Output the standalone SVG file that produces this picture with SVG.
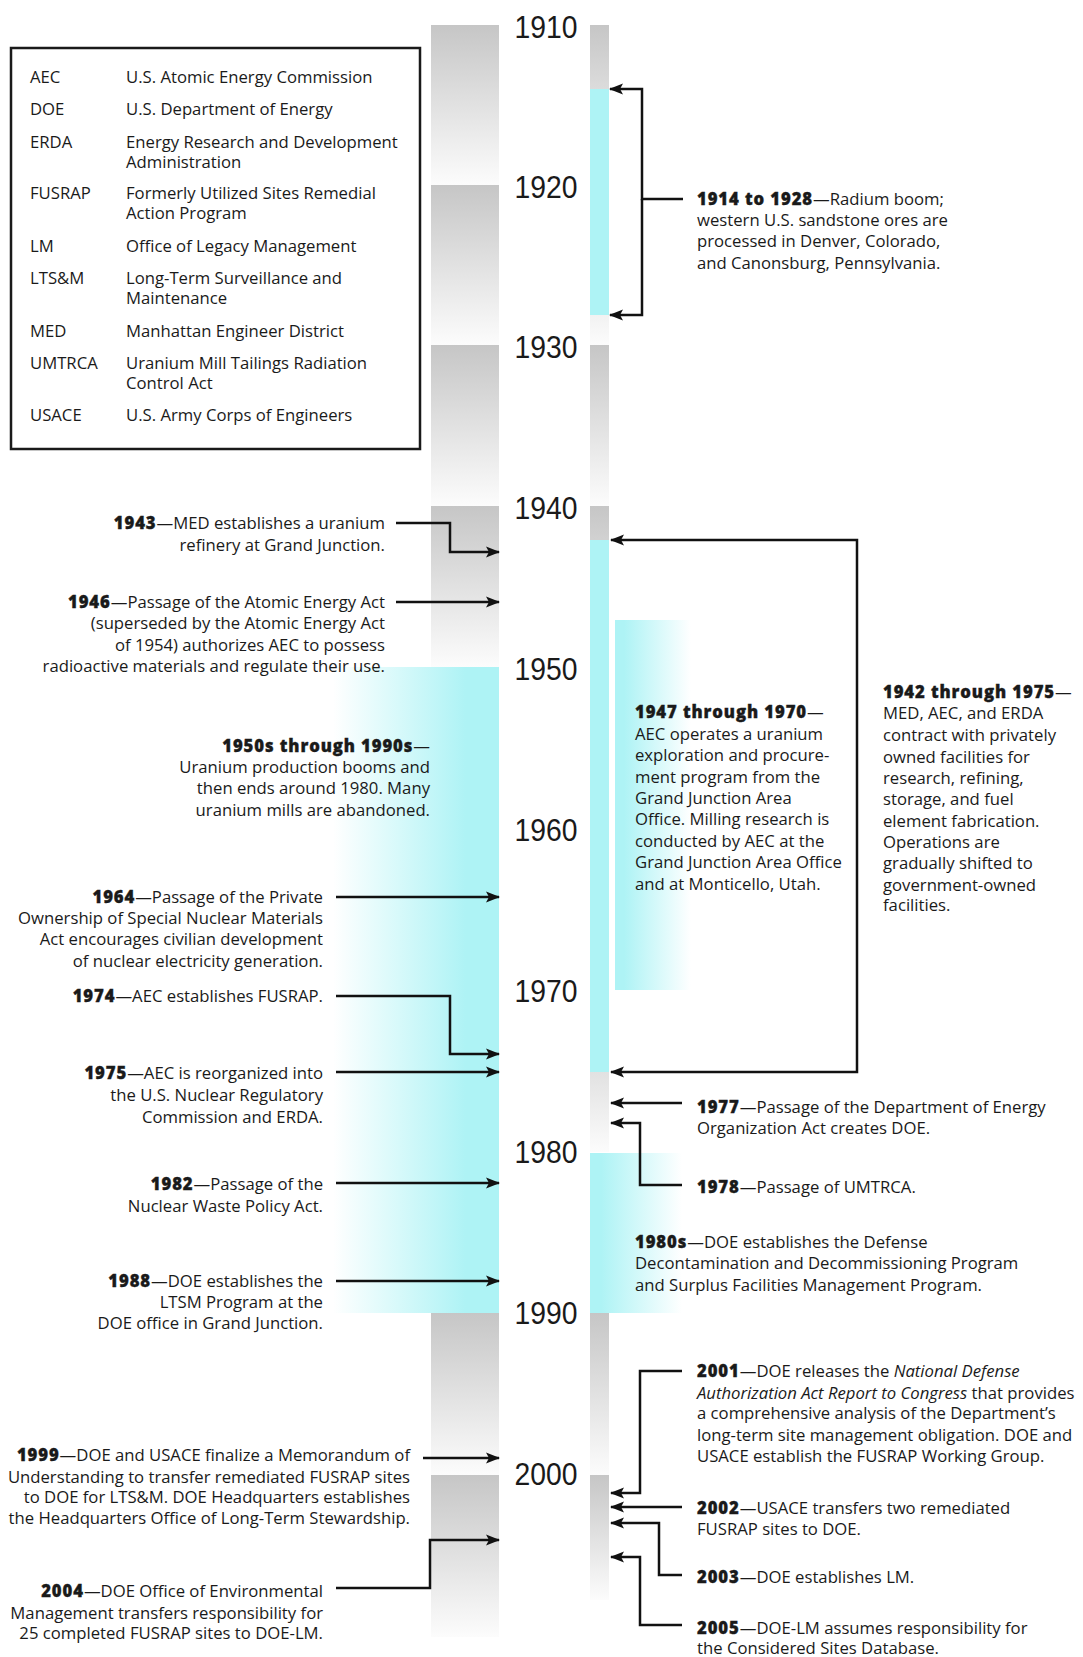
<svg xmlns="http://www.w3.org/2000/svg" width="1083" height="1657" viewBox="0 0 1083 1657">
<defs>
<linearGradient id="gray" x1="0" y1="0" x2="0" y2="1"><stop offset="0" stop-color="#c6c6c6"/><stop offset="1" stop-color="#fcfcfc"/></linearGradient>
<linearGradient id="cyanL" x1="0" y1="0" x2="1" y2="0"><stop offset="0" stop-color="#aef3f5" stop-opacity="0"/><stop offset="0.8" stop-color="#aef3f5"/></linearGradient>
<linearGradient id="cyanR" x1="0" y1="0" x2="1" y2="0"><stop offset="0.12" stop-color="#aef3f5"/><stop offset="1" stop-color="#aef3f5" stop-opacity="0"/></linearGradient>
<marker id="ah" viewBox="0 0 14 12" refX="13" refY="6" markerWidth="14" markerHeight="12" orient="auto" markerUnits="userSpaceOnUse"><path d="M0,0.5 L14,6 L0,11.5 L3,6 Z" fill="#111"/></marker>
</defs>
<style>
.t{font-family:"Open Sans","Noto Sans","Liberation Sans",sans-serif;font-size:16.7px;fill:#1a1a1a}
.e{text-anchor:end}
.b{font-weight:800;letter-spacing:0.9px;stroke:#1a1a1a;stroke-width:0.35px}
.i{font-style:italic}
.yr{font-family:"Liberation Sans",Arial,sans-serif;font-size:32px;fill:#1a1a1a;text-anchor:middle}
.g{fill:url(#gray)}
.cy{fill:#aef3f5}
.ca{fill:none;stroke:#111;stroke-width:2.5;marker-end:url(#ah)}
</style>
<rect width="1083" height="1657" fill="#fff"/>

<g id="bars">
<rect class="g" x="431" y="25" width="68" height="160"/>
<rect class="g" x="431" y="185" width="68" height="160"/>
<rect class="g" x="431" y="345" width="68" height="161"/>
<rect class="g" x="431" y="506" width="68" height="161"/>
<rect class="g" x="431" y="1313" width="68" height="162"/>
<rect class="g" x="431" y="1475" width="68" height="162"/>
<rect x="333" y="667" width="166" height="646" fill="url(#cyanL)"/>
<rect class="g" x="590" y="25" width="19" height="160"/>
<rect class="g" x="590" y="185" width="19" height="160"/>
<rect class="g" x="590" y="345" width="19" height="161"/>
<rect class="g" x="590" y="506" width="19" height="161"/>
<rect class="g" x="590" y="667" width="19" height="161"/>
<rect class="g" x="590" y="828" width="19" height="162"/>
<rect class="g" x="590" y="990" width="19" height="162"/>
<rect class="g" x="590" y="1313" width="19" height="162"/>
<rect class="g" x="590" y="1475" width="19" height="125"/>
<rect class="cy" x="590" y="89" width="19" height="226"/>
<rect class="cy" x="590" y="540" width="19" height="532"/>
<rect x="615" y="620" width="76" height="370" fill="url(#cyanR)"/>
<rect x="590" y="1153" width="92" height="160" fill="url(#cyanR)"/>
</g>

<g id="years">
<text class="yr" x="546" y="38" textLength="63" lengthAdjust="spacingAndGlyphs">1910</text>
<text class="yr" x="546" y="198" textLength="63" lengthAdjust="spacingAndGlyphs">1920</text>
<text class="yr" x="546" y="358" textLength="63" lengthAdjust="spacingAndGlyphs">1930</text>
<text class="yr" x="546" y="519" textLength="63" lengthAdjust="spacingAndGlyphs">1940</text>
<text class="yr" x="546" y="680" textLength="63" lengthAdjust="spacingAndGlyphs">1950</text>
<text class="yr" x="546" y="841" textLength="63" lengthAdjust="spacingAndGlyphs">1960</text>
<text class="yr" x="546" y="1002" textLength="63" lengthAdjust="spacingAndGlyphs">1970</text>
<text class="yr" x="546" y="1163" textLength="63" lengthAdjust="spacingAndGlyphs">1980</text>
<text class="yr" x="546" y="1324" textLength="63" lengthAdjust="spacingAndGlyphs">1990</text>
<text class="yr" x="546" y="1485" textLength="63" lengthAdjust="spacingAndGlyphs">2000</text>
</g>

<g id="legend">
<rect x="11" y="48" width="409" height="401" fill="none" stroke="#1a1a1a" stroke-width="2.5"/>
<text class="t">
<tspan x="30" y="83">AEC</tspan><tspan x="126" y="83">U.S. Atomic Energy Commission</tspan>
<tspan x="30" y="115">DOE</tspan><tspan x="126" y="115">U.S. Department of Energy</tspan>
<tspan x="30" y="148">ERDA</tspan><tspan x="126" y="148">Energy Research and Development</tspan>
<tspan x="126" y="168">Administration</tspan>
<tspan x="30" y="199">FUSRAP</tspan><tspan x="126" y="199">Formerly Utilized Sites Remedial</tspan>
<tspan x="126" y="219">Action Program</tspan>
<tspan x="30" y="252">LM</tspan><tspan x="126" y="252">Office of Legacy Management</tspan>
<tspan x="30" y="284">LTS&amp;M</tspan><tspan x="126" y="284">Long-Term Surveillance and</tspan>
<tspan x="126" y="304">Maintenance</tspan>
<tspan x="30" y="337">MED</tspan><tspan x="126" y="337">Manhattan Engineer District</tspan>
<tspan x="30" y="369">UMTRCA</tspan><tspan x="126" y="369">Uranium Mill Tailings Radiation</tspan>
<tspan x="126" y="389">Control Act</tspan>
<tspan x="30" y="421">USACE</tspan><tspan x="126" y="421">U.S. Army Corps of Engineers</tspan>
</text>
</g>

<g id="e1914">
<text class="t"><tspan x="697" y="204.5"><tspan class="b">1914 to 1928</tspan>—Radium boom;</tspan><tspan x="697" y="226">western U.S. sandstone ores are</tspan><tspan x="697" y="247">processed in Denver, Colorado,</tspan><tspan x="697" y="268.5">and Canonsburg, Pennsylvania.</tspan></text>
</g>

<g id="e1943">
<text class="t e"><tspan x="385" y="529"><tspan class="b">1943</tspan>—MED establishes a uranium</tspan><tspan x="385" y="551">refinery at Grand Junction.</tspan></text>
</g>

<g id="e1946">
<text class="t e"><tspan x="385" y="607.5"><tspan class="b">1946</tspan>—Passage of the Atomic Energy Act</tspan><tspan x="385" y="629">(superseded by the Atomic Energy Act</tspan><tspan x="385" y="650.5">of 1954) authorizes AEC to possess</tspan><tspan x="385" y="671.5">radioactive materials and regulate their use.</tspan></text>
</g>

<g id="e1950s">
<text class="t e"><tspan x="430" y="751.5"><tspan class="b">1950s through 1990s</tspan>—</tspan><tspan x="430" y="772.5">Uranium production booms and</tspan><tspan x="430" y="794">then ends around 1980. Many</tspan><tspan x="430" y="816">uranium mills are abandoned.</tspan></text>
</g>

<g id="e1947">
<text class="t"><tspan x="635" y="718"><tspan class="b">1947 through 1970</tspan>—</tspan><tspan x="635" y="740">AEC operates a uranium</tspan><tspan x="635" y="761">exploration and procure-</tspan><tspan x="635" y="782.5">ment program from the</tspan><tspan x="635" y="803.5">Grand Junction Area</tspan><tspan x="635" y="825">Office. Milling research is</tspan><tspan x="635" y="847">conducted by AEC at the</tspan><tspan x="635" y="867.5">Grand Junction Area Office</tspan><tspan x="635" y="890">and at Monticello, Utah.</tspan></text>
</g>

<g id="e1942">
<text class="t"><tspan x="883" y="697.5"><tspan class="b">1942 through 1975</tspan>—</tspan><tspan x="883" y="719">MED, AEC, and ERDA</tspan><tspan x="883" y="741">contract with privately</tspan><tspan x="883" y="762.5">owned facilities for</tspan><tspan x="883" y="783.5">research, refining,</tspan><tspan x="883" y="805">storage, and fuel</tspan><tspan x="883" y="826.5">element fabrication.</tspan><tspan x="883" y="848">Operations are</tspan><tspan x="883" y="869">gradually shifted to</tspan><tspan x="883" y="891">government-owned</tspan><tspan x="883" y="911">facilities.</tspan></text>
</g>

<g id="e1964">
<text class="t e"><tspan x="323" y="903"><tspan class="b">1964</tspan>—Passage of the Private</tspan><tspan x="323" y="924">Ownership of Special Nuclear Materials</tspan><tspan x="323" y="945">Act encourages civilian development</tspan><tspan x="323" y="966.5">of nuclear electricity generation.</tspan></text>
</g>

<g id="e1974">
<text class="t e"><tspan x="323" y="1001.5"><tspan class="b">1974</tspan>—AEC establishes FUSRAP.</tspan></text>
</g>

<g id="e1975">
<text class="t e"><tspan x="323" y="1079"><tspan class="b">1975</tspan>—AEC is reorganized into</tspan><tspan x="323" y="1101">the U.S. Nuclear Regulatory</tspan><tspan x="323" y="1122.5">Commission and ERDA.</tspan></text>
</g>

<g id="e1977">
<text class="t"><tspan x="697" y="1112.5"><tspan class="b">1977</tspan>—Passage of the Department of Energy</tspan><tspan x="697" y="1134">Organization Act creates DOE.</tspan></text>
</g>

<g id="e1978">
<text class="t"><tspan x="697" y="1192.5"><tspan class="b">1978</tspan>—Passage of UMTRCA.</tspan></text>
</g>

<g id="e1982">
<text class="t e"><tspan x="323" y="1190"><tspan class="b">1982</tspan>—Passage of the</tspan><tspan x="323" y="1212">Nuclear Waste Policy Act.</tspan></text>
</g>

<g id="e1980s">
<text class="t"><tspan x="635" y="1247.5"><tspan class="b">1980s</tspan>—DOE establishes the Defense</tspan><tspan x="635" y="1269">Decontamination and Decommissioning Program</tspan><tspan x="635" y="1291">and Surplus Facilities Management Program.</tspan></text>
</g>

<g id="e1988">
<text class="t e"><tspan x="323" y="1286.5"><tspan class="b">1988</tspan>—DOE establishes the</tspan><tspan x="323" y="1308">LTSM Program at the</tspan><tspan x="323" y="1329">DOE office in Grand Junction.</tspan></text>
</g>

<g id="e1999">
<text class="t e"><tspan x="410" y="1461"><tspan class="b">1999</tspan>—DOE and USACE finalize a Memorandum of</tspan><tspan x="410" y="1482.5">Understanding to transfer remediated FUSRAP sites</tspan><tspan x="410" y="1503">to DOE for LTS&amp;M. DOE Headquarters establishes</tspan><tspan x="410" y="1524">the Headquarters Office of Long-Term Stewardship.</tspan></text>
</g>

<g id="e2001">
<text class="t"><tspan x="697" y="1377"><tspan class="b">2001</tspan>—DOE releases the <tspan class="i">National Defense</tspan></tspan><tspan x="697" y="1398.5"><tspan class="i">Authorization Act Report to Congress</tspan> that provides</tspan><tspan x="697" y="1419">a comprehensive analysis of the Department’s</tspan><tspan x="697" y="1441">long-term site management obligation. DOE and</tspan><tspan x="697" y="1462">USACE establish the FUSRAP Working Group.</tspan></text>
</g>

<g id="e2002">
<text class="t"><tspan x="697" y="1514"><tspan class="b">2002</tspan>—USACE transfers two remediated</tspan><tspan x="697" y="1535">FUSRAP sites to DOE.</tspan></text>
</g>

<g id="e2003">
<text class="t"><tspan x="697" y="1582.5"><tspan class="b">2003</tspan>—DOE establishes LM.</tspan></text>
</g>

<g id="e2004">
<text class="t e"><tspan x="323" y="1597"><tspan class="b">2004</tspan>—DOE Office of Environmental</tspan><tspan x="323" y="1618.5">Management transfers responsibility for</tspan><tspan x="323" y="1639">25 completed FUSRAP sites to DOE-LM.</tspan></text>
</g>

<g id="e2005">
<text class="t"><tspan x="697" y="1634"><tspan class="b">2005</tspan>—DOE-LM assumes responsibility for</tspan><tspan x="697" y="1654">the Considered Sites Database.</tspan></text>
</g>

<g id="connectors">
<path class="ca" d="M683,199 H642 V89 H610"/>
<path class="ca" d="M642,199 V315 H610"/>
<path class="ca" d="M396,523 H450 V552 H499"/>
<path class="ca" d="M396,602 H499"/>
<path class="ca" d="M857,700 V540 H611"/>
<path class="ca" d="M857,700 V1072 H611"/>
<path class="ca" d="M336,897 H499"/>
<path class="ca" d="M336,996 H450 V1054 H499"/>
<path class="ca" d="M336,1072 H499"/>
<path class="ca" d="M336,1183 H499"/>
<path class="ca" d="M336,1281 H499"/>
<path class="ca" d="M423,1458 H499"/>
<path class="ca" d="M336,1588 H430 V1540 H499"/>
<path class="ca" d="M682,1103 H611"/>
<path class="ca" d="M682,1185 H640 V1123 H611"/>
<path class="ca" d="M682,1371 H640 V1493 H611"/>
<path class="ca" d="M682,1507 H611"/>
<path class="ca" d="M682,1575 H659 V1523 H611"/>
<path class="ca" d="M682,1625 H640 V1557 H611"/>
</g>
</svg>
